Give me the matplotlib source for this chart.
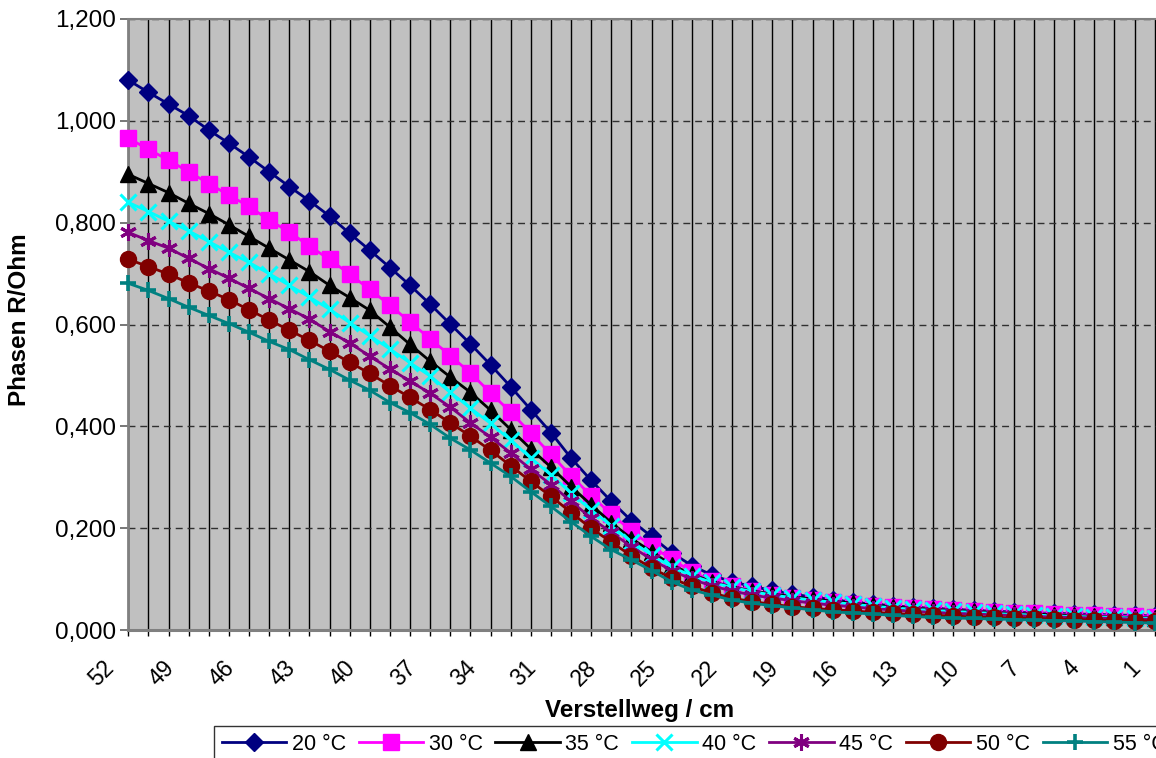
import numpy as np
import matplotlib
matplotlib.use("Agg")
import matplotlib.pyplot as plt

plt.rcParams['font.family'] = ['Liberation Sans', 'DejaVu Sans']

# Kategorien (Verstellweg), von 52 bis 1
weg = list(range(52, 0, -1))

r20 = [1.080, 1.056, 1.033, 1.010, 0.982, 0.956, 0.929, 0.900, 0.871, 0.843,
       0.813, 0.779, 0.746, 0.712, 0.677, 0.640, 0.601, 0.562, 0.521, 0.478,
       0.433, 0.388, 0.338, 0.294, 0.253, 0.215, 0.184, 0.152, 0.127, 0.108,
       0.095, 0.086, 0.078, 0.071, 0.065, 0.060, 0.055, 0.051, 0.048, 0.045,
       0.043, 0.041, 0.039, 0.037, 0.036, 0.034, 0.033, 0.032, 0.031, 0.030,
       0.029, 0.028]
r30 = [0.966, 0.944, 0.923, 0.900, 0.877, 0.854, 0.832, 0.805, 0.782, 0.754,
       0.728, 0.699, 0.669, 0.638, 0.605, 0.572, 0.539, 0.505, 0.466, 0.428,
       0.387, 0.345, 0.303, 0.264, 0.228, 0.195, 0.165, 0.139, 0.115, 0.097,
       0.086, 0.077, 0.070, 0.064, 0.059, 0.055, 0.051, 0.047, 0.045, 0.043,
       0.041, 0.039, 0.037, 0.035, 0.034, 0.033, 0.031, 0.030, 0.029, 0.028,
       0.027, 0.026]
r35 = [0.895, 0.877, 0.859, 0.838, 0.818, 0.796, 0.773, 0.750, 0.727, 0.704,
       0.677, 0.653, 0.628, 0.595, 0.561, 0.528, 0.497, 0.467, 0.432, 0.394,
       0.356, 0.320, 0.282, 0.246, 0.211, 0.180, 0.154, 0.128, 0.110, 0.095,
       0.085, 0.077, 0.071, 0.066, 0.061, 0.057, 0.053, 0.049, 0.046, 0.043,
       0.041, 0.039, 0.037, 0.035, 0.033, 0.032, 0.030, 0.029, 0.027, 0.026,
       0.025, 0.024]
r40 = [0.840, 0.822, 0.803, 0.784, 0.763, 0.742, 0.722, 0.700, 0.677, 0.654,
       0.630, 0.604, 0.578, 0.552, 0.525, 0.499, 0.467, 0.436, 0.406, 0.373,
       0.338, 0.305, 0.269, 0.236, 0.205, 0.174, 0.148, 0.124, 0.107, 0.094,
       0.084, 0.076, 0.069, 0.064, 0.059, 0.055, 0.051, 0.047, 0.044, 0.041,
       0.039, 0.037, 0.035, 0.033, 0.031, 0.030, 0.028, 0.027, 0.026, 0.025,
       0.024, 0.023]
r45 = [0.781, 0.765, 0.750, 0.730, 0.710, 0.691, 0.671, 0.651, 0.631, 0.611,
       0.586, 0.564, 0.538, 0.513, 0.489, 0.465, 0.438, 0.407, 0.379, 0.348,
       0.316, 0.286, 0.253, 0.220, 0.192, 0.164, 0.139, 0.117, 0.100, 0.087,
       0.077, 0.069, 0.063, 0.058, 0.053, 0.049, 0.046, 0.042, 0.040, 0.037,
       0.035, 0.033, 0.032, 0.030, 0.029, 0.027, 0.026, 0.025, 0.024, 0.023,
       0.022, 0.021]
r50 = [0.728, 0.714, 0.699, 0.682, 0.666, 0.649, 0.629, 0.609, 0.589, 0.569,
       0.548, 0.526, 0.504, 0.480, 0.457, 0.433, 0.407, 0.381, 0.353, 0.323,
       0.292, 0.263, 0.231, 0.200, 0.173, 0.146, 0.122, 0.102, 0.086, 0.073,
       0.063, 0.056, 0.051, 0.046, 0.043, 0.040, 0.038, 0.035, 0.033, 0.031,
       0.029, 0.028, 0.026, 0.025, 0.024, 0.023, 0.022, 0.021, 0.020, 0.019,
       0.019, 0.018]
r55 = [0.681, 0.667, 0.651, 0.634, 0.618, 0.602, 0.585, 0.567, 0.551, 0.531,
       0.512, 0.491, 0.471, 0.447, 0.427, 0.404, 0.377, 0.354, 0.328, 0.302,
       0.272, 0.243, 0.213, 0.184, 0.158, 0.138, 0.117, 0.095, 0.079, 0.069,
       0.059, 0.053, 0.048, 0.044, 0.040, 0.036, 0.034, 0.032, 0.029, 0.027,
       0.025, 0.024, 0.023, 0.022, 0.021, 0.020, 0.019, 0.018, 0.017, 0.016,
       0.015, 0.014]

reihen = [r20, r30, r35, r40, r45, r50, r55]
namen = ['20 °C', '30 °C', '35 °C', '40 °C', '45 °C', '50 °C', '55 °C']

yticks = [0.0, 0.2, 0.4, 0.6, 0.8, 1.0, 1.2]
ytick_labels = ['0,000', '0,200', '0,400', '0,600', '0,800', '1,000', '1,200']

# Stil je Reihe: Farbe, Marker, Markergroesse, Markerlinienbreite
stile = [('#000080', 'D', 9.0, 1.0),
         ('#FF00FF', 's', 11.0, 1.0),
         ('#000000', '^', 11.0, 1.0),
         ('#00FFFF', 'x', 11.0, 2.2),
         ('#800080', (6, 2, 0), 12.0, 2.2),
         ('#800000', 'o', 11.5, 1.0),
         ('#008080', '+', 12.0, 2.6)]

W, H = 1156, 758
fig = plt.figure(figsize=(W / 100, H / 100), dpi=100)

x0, x1, ytop, ybot = 128.3, 1156, 19, 630.2
ax = fig.add_axes([x0 / W, (H - ybot) / H, (x1 - x0) / W, (ybot - ytop) / H])
ax.set_facecolor('#C0C0C0')

x = np.arange(len(weg))
for werte, name, (farbe, mk, ms, mew) in zip(reihen, namen, stile):
    ax.plot(x, werte, color=farbe, lw=2.0, marker=mk, ms=ms, mew=mew,
            mec=farbe, mfc=farbe, label=name, clip_on=False, zorder=3)

# Achsenbereiche
ax.set_xlim(0, (x1 - x0) / ((1154.7 - x0) / 51))
ax.set_ylim(0, 1.2)

# Gitter
for i in x:
    ax.axvline(i, color='black', lw=1.0, zorder=1)
for v in yticks[1:]:
    ax.axhline(v, color='#303030', lw=1.0, ls=(0, (5, 3.5)), zorder=1)

ax.set_yticks(yticks)
ax.set_yticklabels(ytick_labels, fontsize=17.5)
ax.set_xticks(x)
ax.set_xticklabels([])
ax.tick_params(axis='y', length=6, width=1.2, color='#606060', pad=3)
ax.tick_params(axis='x', length=4.5, width=1.0, color='black')

# Kategorie-Beschriftung, 45 Grad gedreht
for i, w in zip(x, weg):
    if (52 - w) % 3 == 0:
        ax.annotate(str(w), xy=(i, 0), xycoords='data',
                    xytext=(-13, -24.5), textcoords='offset points',
                    rotation=45, rotation_mode='anchor',
                    ha='right', va='center', fontsize=16.5, annotation_clip=False)

for s in ['left', 'bottom', 'top']:
    ax.spines[s].set_color('#808080')
ax.spines['left'].set_linewidth(2)
ax.spines['bottom'].set_linewidth(2.2)
ax.spines['top'].set_linewidth(1.5)
ax.spines['right'].set_visible(False)

# Achsentitel
fig.text(640 / W, 1 - 711 / H, 'Verstellweg / cm', fontsize=17.5, fontweight='bold',
         ha='center', va='center')
fig.text(20 / W, 1 - 320 / H, 'Phasen R/Ohm', fontsize=17.5, fontweight='bold',
         rotation=90, ha='center', va='center')

# Legende
leg = fig.legend(loc='upper left', bbox_to_anchor=(214 / W, 1 - 726 / H),
                 ncol=7, fontsize=15.5, frameon=True, fancybox=False,
                 handlelength=3.0, handletextpad=0.25, columnspacing=0.6,
                 borderpad=0.35, borderaxespad=0)
leg.get_frame().set_edgecolor('black')
leg.get_frame().set_linewidth(1.0)

fig.savefig('out.png', dpi=100)
